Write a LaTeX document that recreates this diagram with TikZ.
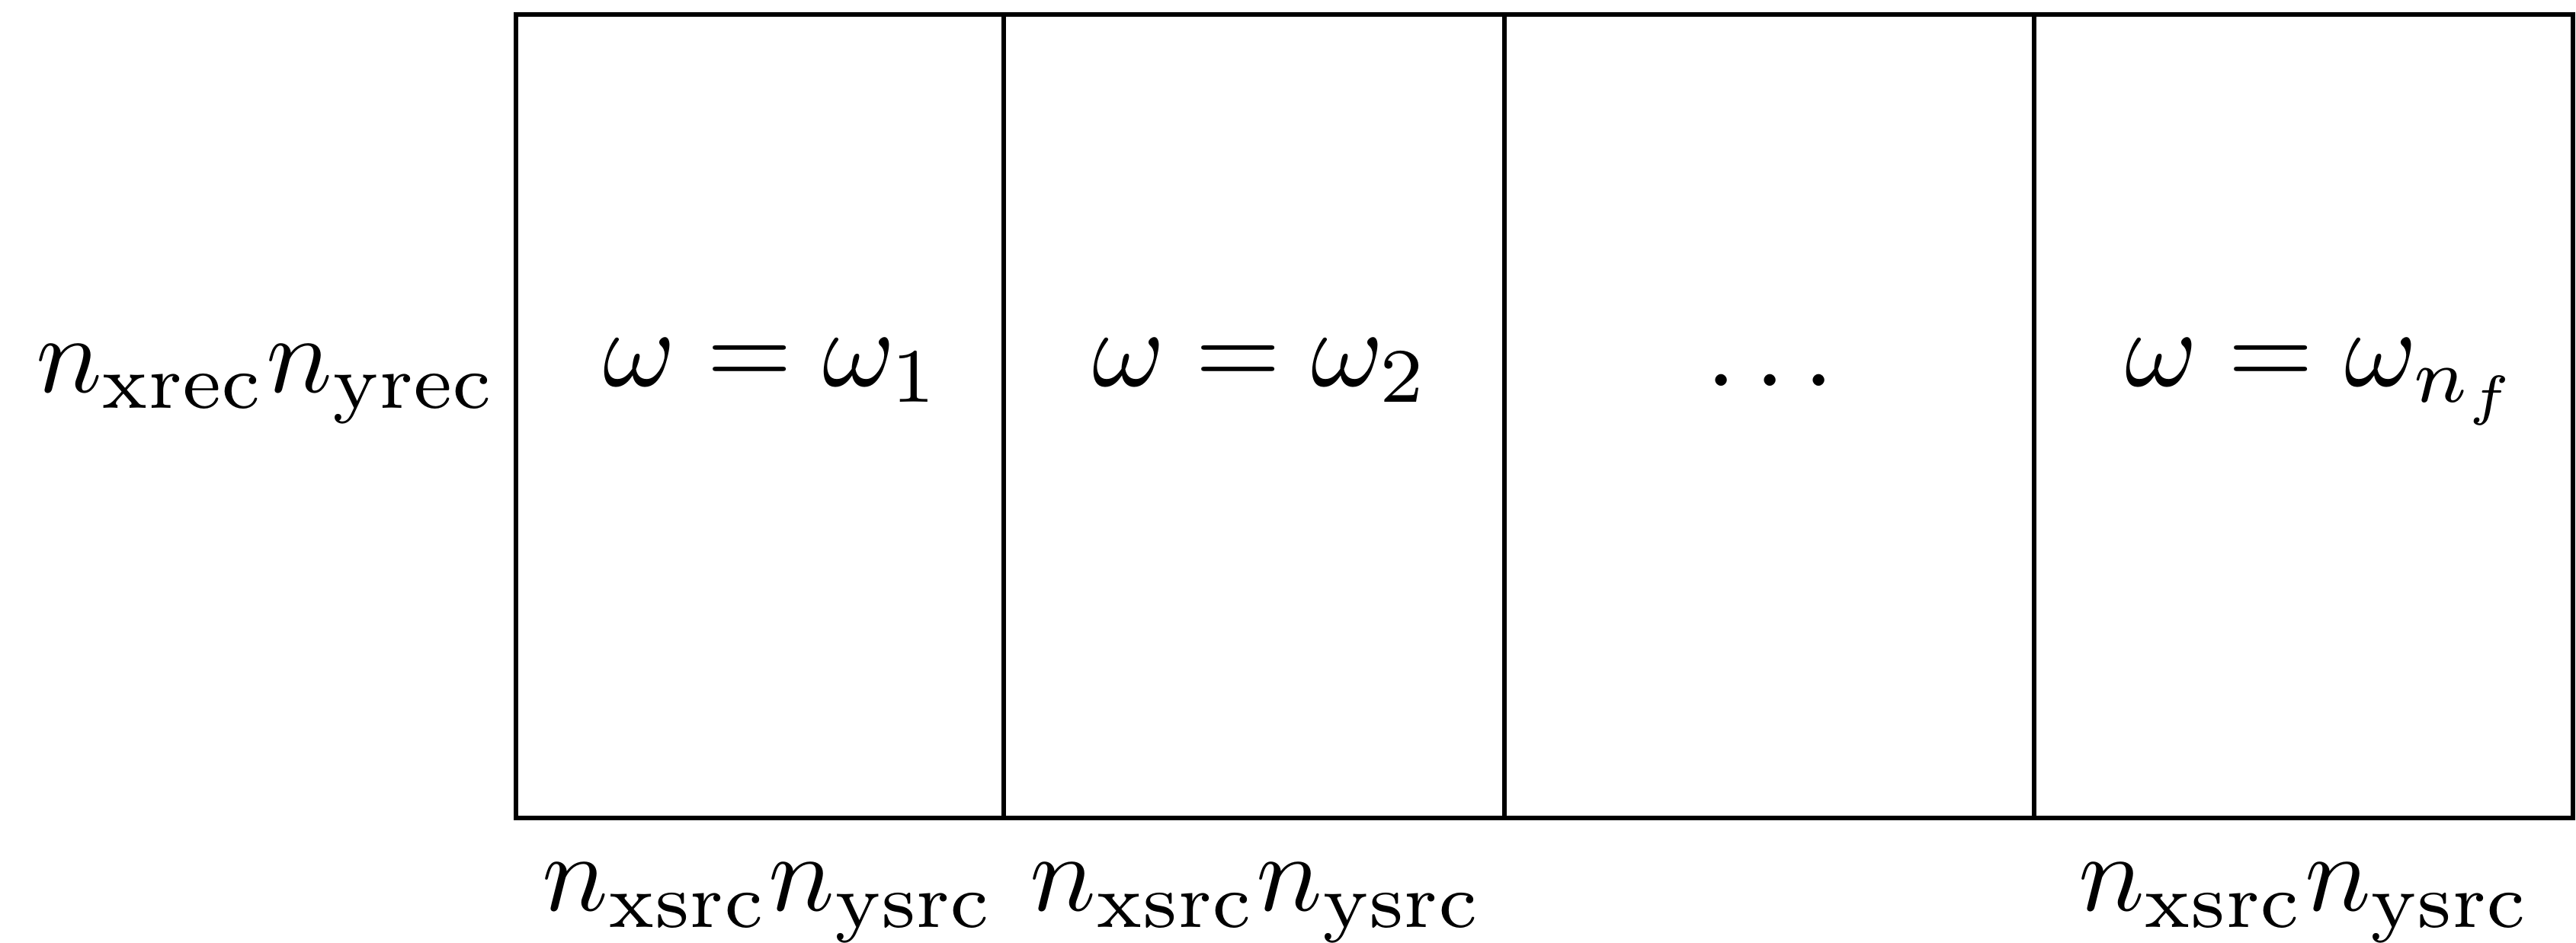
\documentclass[tikz,border=0pt]{standalone}
\usepackage{tikz}
\usetikzlibrary{positioning}
\tikzset{
  celltext/.style={anchor=base, inner sep=0pt, scale=0.96},
  sidelabel/.style={anchor=base east, inner sep=0pt, scale=0.96},
}

\begin{document}
\begin{tikzpicture}
    \useasboundingbox (0,0) rectangle (7.894,2.889);
    % frequency blocks
    \draw (1.581,0.383) rectangle (7.884,2.844);
    \foreach \x in {3.076, 4.610, 6.233}
      \draw (\x,0.383) -- (\x,2.844);
    \node[celltext] (wone) at (2.366,1.707) {$\omega = \omega_1$};
    \node[celltext] (wtwo) at (3.864,1.707) {$\omega = \omega_2$};
    \node[celltext] (wdots) at (5.424,1.707) {$\dots$};
    \node[celltext] (wlast) at (7.122,1.707) {$\omega = \omega_{n_f}$};
    % sizes
    \node[sidelabel] (nrec) at (1.530,1.688) {$n_{\mathrm{xrec}}n_{\mathrm{yrec}}$};
    \node[celltext] (srcone) at (2.356,0.098) {$n_{\mathrm{xsrc}}n_{\mathrm{ysrc}}$};
    \node[celltext] (srctwo) at (3.851,0.098) {$n_{\mathrm{xsrc}}n_{\mathrm{ysrc}}$};
    \node[celltext] (srclast) at (7.063,0.098) {$n_{\mathrm{xsrc}}n_{\mathrm{ysrc}}$};
\end{tikzpicture}
\end{document}
